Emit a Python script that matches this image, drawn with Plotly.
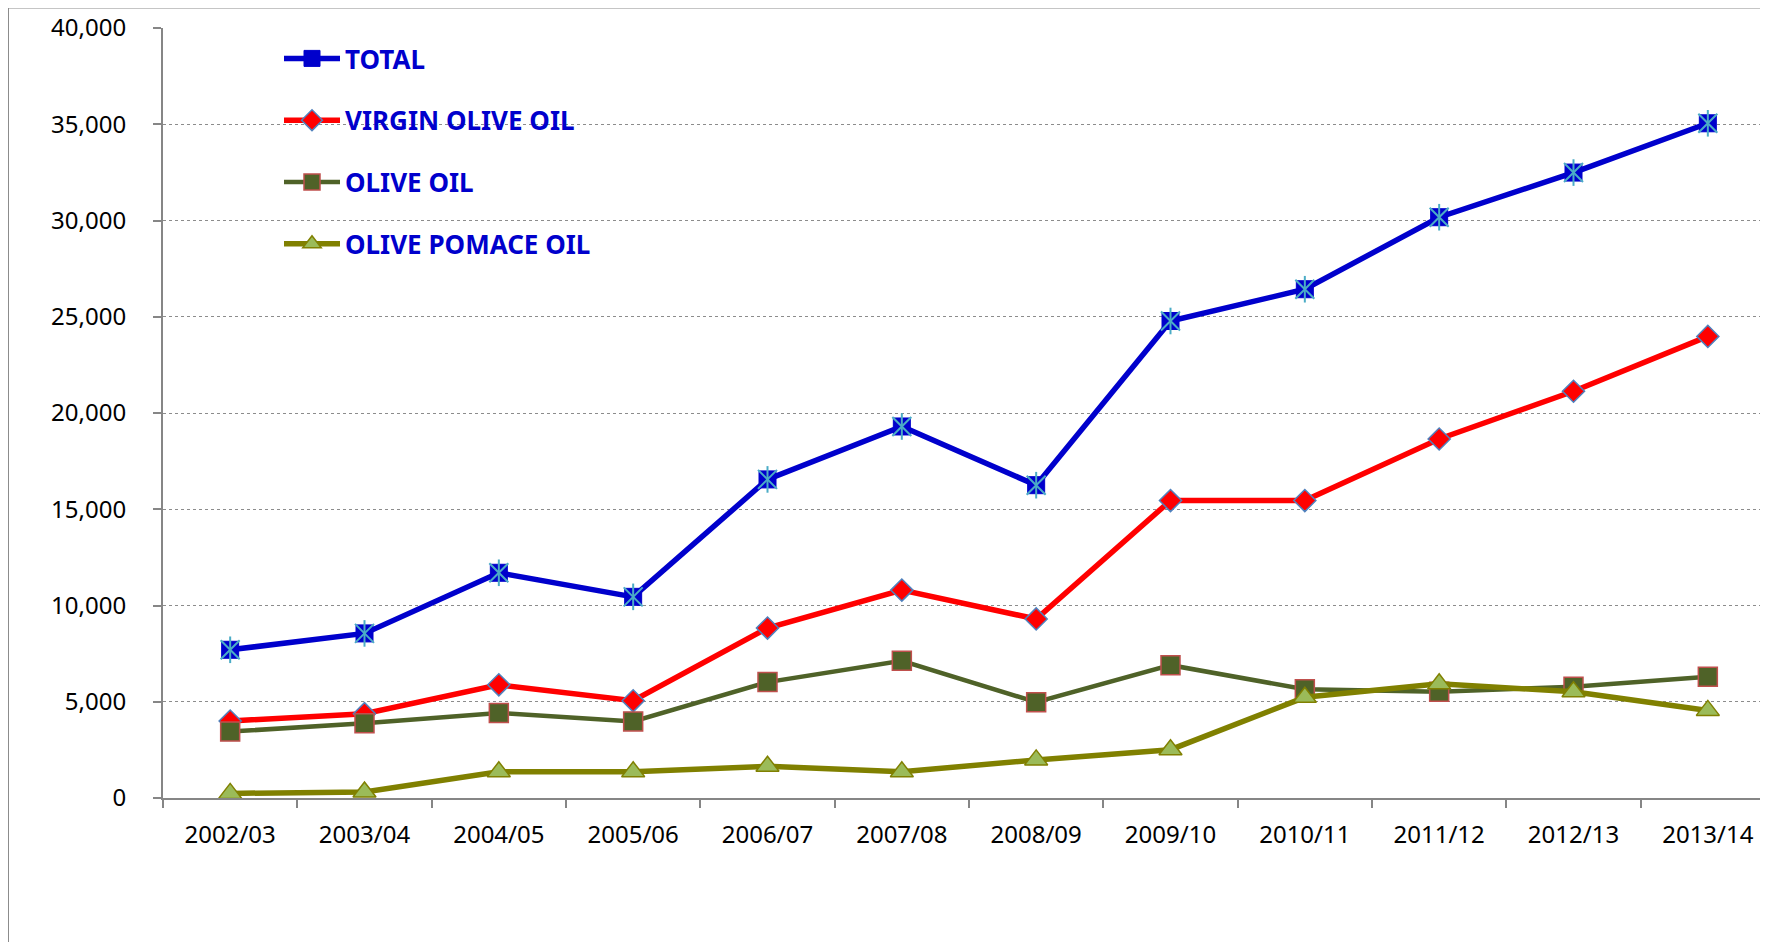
import plotly.graph_objects as go

categories = ["2002/03", "2003/04", "2004/05", "2005/06", "2006/07", "2007/08",
              "2008/09", "2009/10", "2010/11", "2011/12", "2012/13", "2013/14"]
total = [7700, 8550, 11700, 10450, 16550, 19300, 16250, 24780, 26430, 30170, 32490, 35050]
virgin = [4000, 4380, 5880, 5050, 8830, 10800, 9300, 15450, 15450, 18650, 21130, 23980]
olive_oil = [3450, 3880, 4420, 3980, 6020, 7130, 4980, 6900, 5650, 5520, 5780, 6300]
pomace = [240, 310, 1360, 1360, 1650, 1360, 1980, 2510, 5230, 5930, 5520, 4550]

fig = go.Figure()

fig.add_trace(go.Scatter(
    x=categories, y=total, name="TOTAL", mode="lines+markers",
    legendgroup="g1",
    line=dict(color="#0000CC", width=5.5),
    marker=dict(symbol="square", size=17, color="#0000CC",
                line=dict(color="#0000CC", width=1)),
))
fig.add_trace(go.Scatter(
    x=categories, y=total, mode="markers", showlegend=False, hoverinfo="skip",
    legendgroup="g1",
    marker=dict(symbol="x-thin-open", size=19, color="#4BACC6",
                line=dict(color="#4BACC6", width=2)),
))
fig.add_trace(go.Scatter(
    x=categories, y=total, mode="markers", showlegend=False, hoverinfo="skip",
    legendgroup="g1",
    marker=dict(symbol="line-ns-open", size=19, color="#4BACC6",
                line=dict(color="#4BACC6", width=2)),
))
fig.add_trace(go.Scatter(
    x=categories, y=virgin, name="VIRGIN OLIVE OIL", mode="lines+markers",
    legendgroup="g2",
    line=dict(color="#FF0000", width=5.5),
    marker=dict(symbol="diamond", size=17, color="#FF0000",
                line=dict(color="#4F81BD", width=1.5)),
))
fig.add_trace(go.Scatter(
    x=categories, y=olive_oil, name="OLIVE OIL", mode="lines+markers",
    legendgroup="g3",
    line=dict(color="#4F6228", width=4.5),
    marker=dict(symbol="square", size=19, color="#4F6228",
                line=dict(color="#C0504D", width=1.5)),
))
fig.add_trace(go.Scatter(
    x=categories, y=pomace, name="OLIVE POMACE OIL", mode="lines+markers",
    legendgroup="g4",
    line=dict(color="#808000", width=5.5),
    marker=dict(symbol="triangle-up", size=20, color="#9BBB59",
                line=dict(color="#808000", width=1.5)),
))

# page body has an 8px margin, so the figure is offset by (8, 8)
OFF = 8
W, H = 1770, 942 - OFF
L, R = 163 - OFF, 3
T = 28 - OFF
B = H - (798 - OFF)
pw = W - L - R
ph = H - T - B

fig.update_layout(
    width=W, height=H,
    margin=dict(l=L, r=R, t=T, b=B, pad=0),
    paper_bgcolor="white", plot_bgcolor="white",
    font=dict(family="Noto Sans", size=24, color="black"),
    showlegend=True,
    legend=dict(
        x=(279 - 163) / pw, y=1 - (35 - 28) / ph, xanchor="left", yanchor="top",
        font=dict(family="Noto Sans", size=26, color="#0000CC", weight="bold"),
        bgcolor="rgba(0,0,0,0)", tracegroupgap=25, traceorder="grouped",
        itemwidth=56,
    ),
    xaxis=dict(
        type="category", showgrid=False, zeroline=False,
        showline=True, linecolor="#868686", linewidth=2,
        ticks="outside", ticklen=8, tickcolor="#868686", tickwidth=2,
        tickson="boundaries", ticklabelstandoff=14,
        tickfont=dict(size=24, color="black"),
        range=[-0.5, 11.5],
    ),
    yaxis=dict(
        range=[0, 40000], dtick=5000, tickformat=",",
        showgrid=True, gridcolor="#8C8C8C", gridwidth=1, griddash="dot",
        zeroline=False, showline=True, linecolor="#868686", linewidth=2,
        ticks="outside", ticklen=8, tickcolor="#868686", tickwidth=2,
        ticklabelstandoff=22,
        tickfont=dict(size=24, color="black"),
    ),
    shapes=[dict(
        type="rect", xref="paper", yref="paper",
        x0=(8 - 163) / pw, x1=(1800 - 163) / pw,
        y0=-(980 - 798) / ph, y1=1 + (28 - 7.5) / ph,
        line=dict(color="#8C8C8C", width=2), fillcolor="rgba(0,0,0,0)",
        layer="below",
    )],
)

fig.write_html("out.html")
